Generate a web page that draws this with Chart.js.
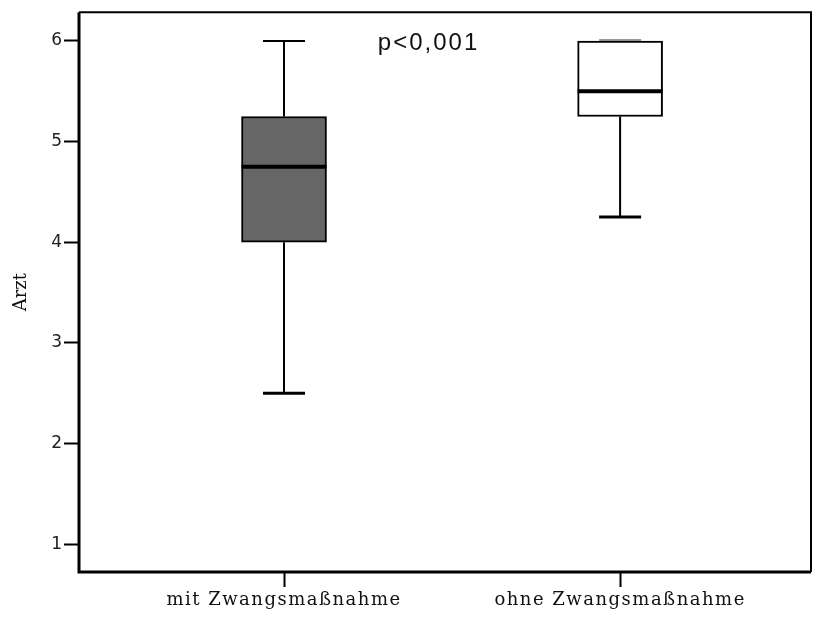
<!DOCTYPE html>
<html lang="de">
<head>
    <meta charset="UTF-8">
    <title>Arzt Boxplot</title>
    <script src="https://cdn.jsdelivr.net/npm/chart.js"></script>
    <style>
        body { margin: 0; background: #fff; }
        canvas { display: block; }
    </style>
</head>
<body>
    <canvas id="boxChart" width="814" height="619"></canvas>

    <script>
        // values
        const categories = ["mit Zwangsmaßnahme", "ohne Zwangsmaßnahme"];
        const positions = [1, 2];
        const whiskerLow = [2.5, 4.25];
        const q1 = [4, 5.25];
        const median = [4.75, 5.5];
        const q3 = [5.25, 6];
        const whiskerHigh = [6, 6];
        const boxColors = ["#666666", "#ffffff"];
        const yTicks = [1, 2, 3, 4, 5, 6];
        const pText = "p<0,001";

        const boxPlugin = {
            id: "boxParts",
            beforeDatasetsDraw(chart) {
                const ctx = chart.ctx;
                const y = chart.scales.y;
                const bars = chart.getDatasetMeta(0).data;
                ctx.save();
                bars.forEach((bar, i) => {
                    const yLo = y.getPixelForValue(whiskerLow[i]);
                    const yHi = y.getPixelForValue(whiskerHigh[i]);
                    ctx.strokeStyle = "#000";
                    ctx.lineWidth = 2;
                    ctx.beginPath();
                    ctx.moveTo(bar.x, yLo);
                    ctx.lineTo(bar.x, y.getPixelForValue(q1[i]));
                    ctx.moveTo(bar.x, y.getPixelForValue(q3[i]));
                    ctx.lineTo(bar.x, yHi);
                    ctx.stroke();
                    ctx.lineWidth = 3;
                    ctx.beginPath();
                    ctx.moveTo(bar.x - 21, yLo);
                    ctx.lineTo(bar.x + 21, yLo);
                    ctx.stroke();
                    // upper cap; the second one sits on the box edge
                    const shift = whiskerHigh[i] === q3[i] ? 1 : 0;
                    ctx.strokeStyle = shift ? "#999" : "#000";
                    ctx.lineWidth = 2;
                    ctx.beginPath();
                    ctx.moveTo(bar.x - 21, yHi - shift);
                    ctx.lineTo(bar.x + 21, yHi - shift);
                    ctx.stroke();
                });
                ctx.restore();
            },
            afterDatasetsDraw(chart) {
                const ctx = chart.ctx;
                const x = chart.scales.x;
                const y = chart.scales.y;
                const bars = chart.getDatasetMeta(0).data;
                const area = chart.chartArea;
                ctx.save();
                ctx.strokeStyle = "#000";
                ctx.lineWidth = 4;
                bars.forEach((bar, i) => {
                    const ym = y.getPixelForValue(median[i]);
                    ctx.beginPath();
                    ctx.moveTo(bar.x - bar.width / 2, ym);
                    ctx.lineTo(bar.x + bar.width / 2, ym);
                    ctx.stroke();
                });

                // frame round the plot
                ctx.lineWidth = 2;
                ctx.beginPath();
                ctx.moveTo(area.left, area.top);
                ctx.lineTo(area.right, area.top);
                ctx.lineTo(area.right, area.bottom);
                ctx.stroke();
                ctx.lineWidth = 3;
                ctx.beginPath();
                ctx.moveTo(area.left, area.top);
                ctx.lineTo(area.left, area.bottom);
                ctx.lineTo(area.right, area.bottom);
                ctx.stroke();

                // p value
                ctx.font = "24px 'Liberation Sans', Arial, sans-serif";
                ctx.letterSpacing = "2px";
                ctx.fillStyle = "#111";
                ctx.textAlign = "center";
                ctx.textBaseline = "middle";
                ctx.fillText(pText, x.getPixelForValue(1.43), y.getPixelForValue(5.98));
                ctx.restore();

                // wider spacing for the category labels, drawn next (x ticks z = 1)
                ctx.letterSpacing = "1.5px";
            },
            afterDraw(chart) {
                chart.ctx.letterSpacing = "0px";
            }
        };

        new Chart(document.getElementById("boxChart"), {
            type: "bar",
            data: {
                datasets: [{
                    data: positions.map((p, i) => ({ x: p, y: [q1[i], q3[i]] })),
                    backgroundColor: boxColors,
                    borderColor: "#000",
                    borderWidth: 2,
                    borderSkipped: false,
                    barThickness: 85
                }]
            },
            options: {
                responsive: false,
                animation: false,
                devicePixelRatio: 1,
                layout: { padding: { top: 8, right: 3, left: 0, bottom: 0 } },
                plugins: {
                    legend: { display: false },
                    tooltip: { enabled: false }
                },
                scales: {
                    x: {
                        type: "linear",
                        offset: false,
                        min: 0.39,
                        max: 2.568,
                        afterBuildTicks: scale => { scale.ticks = positions.map(v => ({ value: v })); },
                        afterFit: scale => { scale.height = 47; },
                        border: { display: false },
                        grid: { offset: false, drawOnChartArea: false, tickLength: 15, tickWidth: 2, tickColor: "#000", z: 1 },
                        ticks: {
                            z: 1,
                            autoSkip: false,
                            maxRotation: 0,
                            padding: 3,
                            color: "#111",
                            font: { family: "'DejaVu Serif', serif", size: 18 },
                            callback: v => categories[positions.indexOf(v)]
                        }
                    },
                    y: {
                        min: 0.724,
                        max: 6.286,
                        afterBuildTicks: scale => { scale.ticks = yTicks.map(v => ({ value: v })); },
                        afterFit: scale => { scale.width = 79; },
                        border: { display: false },
                        grid: { drawOnChartArea: false, tickLength: 15, tickWidth: 2, tickColor: "#000" },
                        title: {
                            display: true,
                            text: "Arzt",
                            color: "#111",
                            padding: { top: 11, bottom: 0 },
                            font: { family: "'DejaVu Serif', serif", size: 18, weight: "normal" }
                        },
                        ticks: {
                            padding: 2,
                            color: "#222",
                            font: { family: "'DejaVu Sans', sans-serif", size: 17 }
                        }
                    }
                }
            },
            plugins: [boxPlugin]
        });
    </script>
</body>
</html>
